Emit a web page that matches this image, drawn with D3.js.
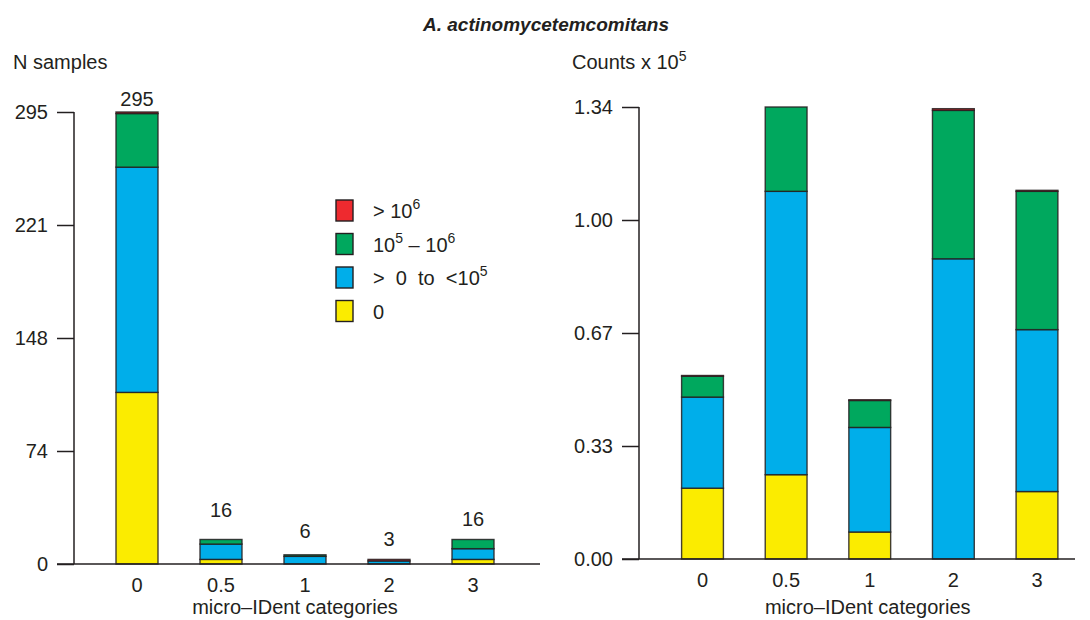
<!DOCTYPE html>
<html>
<head>
<meta charset="utf-8">
<script src="https://cdn.jsdelivr.net/npm/d3@7"></script>
<style>
  html, body { margin: 0; padding: 0; background: #fff; }
  svg { display: block; font-family: "Liberation Sans", Arial, Helvetica, sans-serif; }
  text { fill: #231f20; }
</style>
</head>
<body>
<svg id="chart" width="1090" height="620"></svg>
<script>
// ---------- data ----------
const categories = ["0", "0.5", "1", "2", "3"];
const seriesKeys = ["zero", "low", "mid", "high"];   // stack order bottom -> top
const seriesLabels = ["0", "> 0 to <10^5", "10^5 – 10^6", "> 10^6"];

// Left panel: N samples
const nZero = [112, 3, 0, 0, 3];
const nLow  = [147, 10, 5, 2, 7];
const nMid  = [35, 3, 1, 0, 6];
const nHigh = [1, 0, 0, 1, 0];
const nTotals = [295, 16, 6, 3, 16];
const nTickValues = [0, 73.75, 147.5, 221.25, 295];
const nTickLabels = ["0", "74", "148", "221", "295"];

// Right panel: Counts x 10^5
const cZero = [0.21, 0.25, 0.08, 0.0, 0.20];
const cLow  = [0.27, 0.84, 0.31, 0.89, 0.48];
const cMid  = [0.062, 0.25, 0.08, 0.44, 0.41];
const cHigh = [0.002, 0.0, 0.002, 0.005, 0.003];
const cTickValues = [0, 0.335, 0.67, 1.005, 1.34];
const cTickLabels = ["0.00", "0.33", "0.67", "1.00", "1.34"];

// ---------- style ----------
const colors = { zero: "#fbec00", low: "#00aeea", mid: "#00a85e", high: "#ee2a2f" };
const ink = "#231f20";
const fontSize = 20;

const svg = d3.select("#chart");

function buildRows(z, l, m, h) {
  return categories.map((c, i) => ({ cat: c, zero: z[i], low: l[i], mid: m[i], high: h[i] }));
}

function drawPanel(opts) {
  const g = svg.append("g");
  const x = d3.scalePoint().domain(categories).range(opts.xRange).padding(0.5);
  const bw = x.step() * 0.5;
  const y = d3.scaleLinear().domain([0, opts.max]).range([opts.y0, opts.y1]);

  const stack = d3.stack().keys(seriesKeys)(opts.rows);

  // bars
  g.selectAll("g.layer").data(stack).join("g")
    .attr("class", "layer")
    .attr("fill", d => colors[d.key])
    .selectAll("rect").data(d => d.filter(p => p[1] - p[0] > 0)).join("rect")
    .attr("x", d => x(d.data.cat) - bw / 2)
    .attr("width", bw)
    .attr("y", d => y(d[1]))
    .attr("height", d => y(d[0]) - y(d[1]))
    .attr("stroke", ink)
    .attr("stroke-width", 1.4)
    .attr("stroke-opacity", 0.85);

  // x axis baseline
  g.append("line")
    .attr("x1", opts.axisX - 17).attr("x2", opts.xLineEnd)
    .attr("y1", y(0)).attr("y2", y(0))
    .attr("stroke", ink).attr("stroke-width", 1.5);

  // x tick labels
  g.selectAll("text.xt").data(categories).join("text")
    .attr("class", "xt")
    .attr("x", d => x(d)).attr("y", y(0) + 28)
    .attr("text-anchor", "middle")
    .attr("font-size", fontSize)
    .text(d => d);

  // x axis title
  g.append("text")
    .attr("x", (opts.xRange[0] + opts.xRange[1]) / 2 + opts.titleShift)
    .attr("y", 614)
    .attr("text-anchor", "middle")
    .attr("font-size", fontSize)
    .text("micro–IDent categories");

  // y axis
  const yAxis = d3.axisLeft(y).tickValues(opts.tickValues).tickSize(17).tickPadding(9)
    .tickFormat((d, i) => opts.tickLabels[i]);
  const ya = g.append("g").attr("transform", `translate(${opts.axisX},0)`).call(yAxis);
  ya.select(".domain").remove();
  ya.append("line").attr("x1", 0).attr("x2", 0)
    .attr("y1", y(opts.max)).attr("y2", y(0))
    .attr("stroke", ink).attr("stroke-width", 1.5);
  ya.selectAll(".tick line").attr("stroke", ink).attr("stroke-width", 1.5);
  ya.selectAll(".tick text").attr("fill", ink).attr("font-size", fontSize)
    .attr("font-family", '"Liberation Sans", Arial, sans-serif');

  return { g, x, y, bw };
}

// ---------- left panel ----------
const left = drawPanel({
  rows: buildRows(nZero, nLow, nMid, nHigh),
  xRange: [95, 515], y0: 564, y1: 112, max: 295,
  axisX: 74, xLineEnd: 540, titleShift: -10,
  tickValues: nTickValues, tickLabels: nTickLabels
});

// totals above bars (label lift per bar, as placed in the original)
const totalLift = [6, 22, 17, 13, 13];
left.g.selectAll("text.tot").data(nTotals).join("text")
  .attr("class", "tot")
  .attr("x", (d, i) => left.x(categories[i]))
  .attr("y", (d, i) => left.y(d) - totalLift[i])
  .attr("text-anchor", "middle")
  .attr("font-size", fontSize)
  .text(d => d);

// left y title
svg.append("text").attr("x", 13).attr("y", 69).attr("font-size", fontSize).text("N samples");

// ---------- right panel ----------
drawPanel({
  rows: buildRows(cZero, cLow, cMid, cHigh),
  xRange: [660.7, 1078.8], y0: 559, y1: 107, max: 1.34,
  axisX: 639, xLineEnd: 1075, titleShift: -2,
  tickValues: cTickValues, tickLabels: cTickLabels
});

const ct = svg.append("text").attr("x", 572).attr("y", 69).attr("font-size", fontSize);
ct.append("tspan").text("Counts x 10");
ct.append("tspan").attr("dy", -8).attr("font-size", 14).text("5");

// ---------- title ----------
svg.append("text")
  .attr("x", 546).attr("y", 31)
  .attr("text-anchor", "middle")
  .attr("font-size", 19).attr("font-weight", "bold").attr("font-style", "italic")
  .text("A. actinomycetemcomitans");

// ---------- legend ----------
const legendOrder = ["high", "mid", "low", "zero"];
const legendTexts = {
  high: [["> 10", 0], ["6", 1]],
  mid: [["10", 0], ["5", 1], [" – 10", 0], ["6", 1]],
  low: [[">  0  to  <10", 0], ["5", 1]],
  zero: [["0", 0]]
};
const lg = svg.append("g").attr("transform", "translate(336,200)");
const li = lg.selectAll("g").data(legendOrder).join("g")
  .attr("transform", (d, i) => `translate(0,${i * 33.5})`);
li.append("rect").attr("width", 17).attr("height", 21)
  .attr("fill", d => colors[d]).attr("stroke", ink).attr("stroke-width", 1.4);
li.each(function (k) {
  const t = d3.select(this).append("text")
    .attr("x", 37).attr("y", 18).attr("font-size", 20)
    .style("white-space", "pre");
  let prevSup = 0;
  legendTexts[k].forEach(([s, sup]) => {
    const dy = sup === prevSup ? 0 : (sup ? -9 : 9);
    t.append("tspan").attr("dy", dy).attr("font-size", sup ? 14 : 20).text(s);
    prevSup = sup;
  });
});
</script>
</body>
</html>
